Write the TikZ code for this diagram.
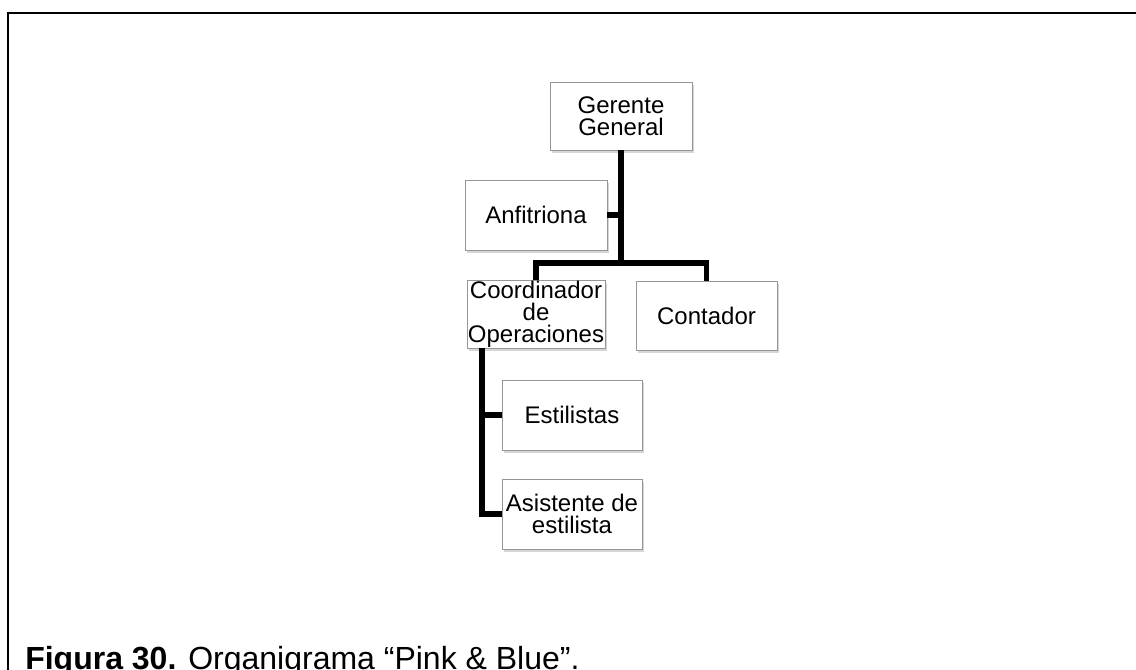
\documentclass[tikz,border=0pt]{standalone}
\usepackage{fontspec}
\setmainfont{Liberation Sans}
\usetikzlibrary{shadows}
\definecolor{boxline}{RGB}{150,150,150}
\tikzset{
  orgbox/.style={draw=boxline, line width=0.6pt, fill=white, inner sep=0pt,
    align=center, font=\fontsize{18}{16.6}\selectfont,
    drop shadow={shadow xshift=1.6pt, shadow yshift=-2.2pt, fill=black!30, opacity=0.55}},
  link/.style={line width=3.8pt, line join=miter},
  frameline/.style={line width=2pt}
}
\begin{document}
\begin{tikzpicture}[x=0.75pt, y=-0.75pt]
\useasboundingbox (0,0) rectangle (1136,670);
\begin{scope}
\clip (0,0) rectangle (1136,670);
% page frame
\draw[frameline] (8,675) -- (8,13) -- (1140,13);

% boxes
\node[orgbox, minimum width=142*0.75pt, minimum height=68*0.75pt] (g) at (621,116) {Gerente\\General};
\node[orgbox, minimum width=142*0.75pt, minimum height=70*0.75pt] (an) at (536,215) {Anfitriona};
\node[orgbox, minimum width=138*0.75pt, minimum height=68*0.75pt] (c) at (536,314) {Coordinador\\de\\Operaciones};
\node[orgbox, minimum width=141*0.75pt, minimum height=69*0.75pt] (ct) at (706.5,315.5) {Contador};
\node[orgbox, minimum width=140*0.75pt, minimum height=70*0.75pt] (e) at (572,415) {Estilistas};
\node[orgbox, minimum width=140*0.75pt, minimum height=70*0.75pt] (as) at (572,514) {Asistente de\\estilista};

% connectors
\coordinate (bar) at (0,263);
\coordinate (trunk) at (482,0);
\draw[link] (g.south) -- (g.south |- bar);
\draw[link] (an.east) -- (an.east -| g.south);
\draw[link] (c.north) -- (c.north |- bar) -- (ct.north |- bar) -- (ct.north);
\draw[link] (trunk |- c.south) |- (as.west);
\draw[link] (trunk |- e.west) -- (e.west);

% caption
\node[anchor=base west, inner sep=0pt, font=\fontsize{24}{28}\selectfont] (cap) at (25,669)
  {\textbf{Figura 30.} Organigrama “Pink \& Blue”.};
\end{scope}
\end{tikzpicture}
\end{document}
